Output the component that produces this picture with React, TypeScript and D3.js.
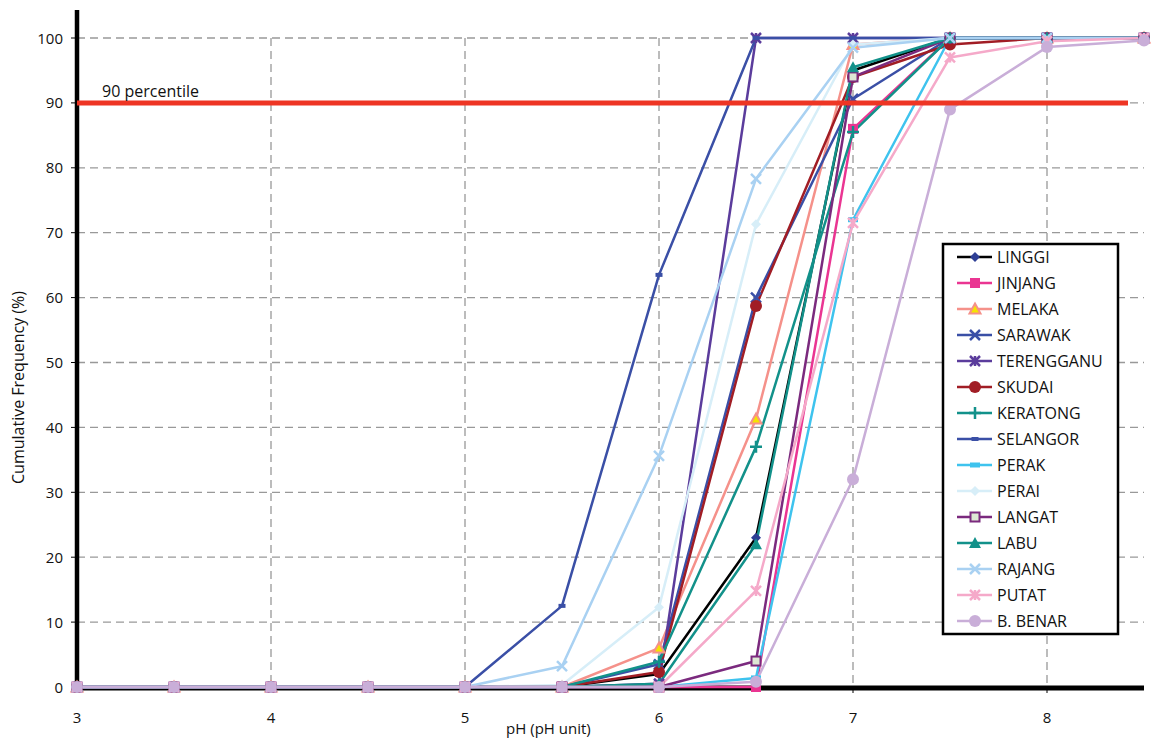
import React, { useEffect, useRef } from "react";
import * as d3 from "d3";

const phValues = [3, 3.5, 4, 4.5, 5, 5.5, 6, 6.5, 7, 7.5, 8, 8.5];
const xTicks = [3, 4, 5, 6, 7, 8];
const yTicks = [0, 10, 20, 30, 40, 50, 60, 70, 80, 90, 100];

const LINGGI = [0, 0, 0, 0, 0, 0, 2, 23, 95, 100, 100, 100];
const JINJANG = [0, 0, 0, 0, 0, 0, 0, 0, 86, 100, 100, 100];
const MELAKA = [0, 0, 0, 0, 0, 0, 6, 41.3, 99, 100, 100, 100];
const SARAWAK = [0, 0, 0, 0, 0, 0, 3.5, 60, 90.6, 100, 100, 100];
const TERENGGANU = [0, 0, 0, 0, 0, 0, 0.5, 100, 100, 100, 100, 100];
const SKUDAI = [0, 0, 0, 0, 0, 0, 2.3, 58.7, 94, 99, 100, 100];
const KERATONG = [0, 0, 0, 0, 0, 0, 3.9, 37, 85.5, 100, 100, 100];
const SELANGOR = [0, 0, 0, 0, 0, 12.5, 63.5, 100, 100, 100, 100, 100];
const PERAK = [0, 0, 0, 0, 0, 0, 0, 1.4, 72, 100, 100, 100];
const PERAI = [0, 0, 0, 0, 0, 0.3, 12.3, 71.3, 99, 100, 100, 100];
const LANGAT = [0, 0, 0, 0, 0, 0, 0, 4, 94, 100, 100, 100];
const LABU = [0, 0, 0, 0, 0, 0, 0.5, 22, 95.5, 100, 100, 100];
const RAJANG = [0, 0, 0, 0, 0, 3.2, 35.6, 78.3, 98.5, 100, 100, 100];
const PUTAT = [0, 0, 0, 0, 0, 0, 0, 14.8, 71.5, 97, 99.5, 100];
const BBENAR = [0, 0, 0, 0, 0, 0, 0, 0.8, 32, 89, 98.6, 99.6];

const seriesNames = ["LINGGI", "JINJANG", "MELAKA", "SARAWAK", "TERENGGANU", "SKUDAI", "KERATONG", "SELANGOR", "PERAK", "PERAI", "LANGAT", "LABU", "RAJANG", "PUTAT", "B. BENAR"];
const seriesValues = [LINGGI, JINJANG, MELAKA, SARAWAK, TERENGGANU, SKUDAI, KERATONG, SELANGOR, PERAK, PERAI, LANGAT, LABU, RAJANG, PUTAT, BBENAR];

type Style = { line: string; fill: string; stroke: string; marker: string };
const styles: Style[] = [
  { line: "#000000", fill: "#2e3f95", stroke: "#2e3f95", marker: "diamond" },
  { line: "#ea3592", fill: "#ea3592", stroke: "#ea3592", marker: "square" },
  { line: "#f5918a", fill: "#f5e400", stroke: "#f5918a", marker: "triangleOpen" },
  { line: "#3a4fa6", fill: "#3a4fa6", stroke: "#3a4fa6", marker: "x" },
  { line: "#5b3c9c", fill: "#5b3c9c", stroke: "#5b3c9c", marker: "star" },
  { line: "#a11d25", fill: "#a11d25", stroke: "#a11d25", marker: "circle" },
  { line: "#12918a", fill: "#12918a", stroke: "#12918a", marker: "plus" },
  { line: "#3a4fa6", fill: "#3a4fa6", stroke: "#3a4fa6", marker: "dash" },
  { line: "#3ec3ee", fill: "#3ec3ee", stroke: "#3ec3ee", marker: "dashLong" },
  { line: "#d7eef8", fill: "#d7eef8", stroke: "#d7eef8", marker: "diamond" },
  { line: "#7b2a7e", fill: "#dde8d4", stroke: "#7b2a7e", marker: "squareOpen" },
  { line: "#12918a", fill: "#12918a", stroke: "#12918a", marker: "triangle" },
  { line: "#a9d1f2", fill: "#a9d1f2", stroke: "#a9d1f2", marker: "x" },
  { line: "#f5a9c9", fill: "#f5a9c9", stroke: "#f5a9c9", marker: "star" },
  { line: "#c9aed8", fill: "#c9aed8", stroke: "#c9aed8", marker: "circle" },
];

const FONT = "'Open Sans', 'Noto Sans', sans-serif";

function drawMarker(g: d3.Selection<SVGGElement, unknown, null, undefined>, type: string, x: number, y: number, s: Style) {
  const m = g.append("g").attr("transform", `translate(${x},${y})`);
  switch (type) {
    case "diamond":
      m.append("path").attr("d", "M0,-5L5,0L0,5L-5,0Z").attr("fill", s.fill);
      break;
    case "square":
      m.append("rect").attr("x", -5).attr("y", -5).attr("width", 10).attr("height", 10).attr("fill", s.fill);
      break;
    case "squareOpen":
      m.append("rect").attr("x", -4.5).attr("y", -4.5).attr("width", 9).attr("height", 9).attr("fill", s.fill).attr("stroke", s.stroke).attr("stroke-width", 2);
      break;
    case "triangle":
      m.append("path").attr("d", "M0,-6L6,5L-6,5Z").attr("fill", s.fill);
      break;
    case "triangleOpen":
      m.append("path").attr("d", "M0,-5.5L5.5,4.5L-5.5,4.5Z").attr("fill", s.fill).attr("stroke", s.stroke).attr("stroke-width", 2);
      break;
    case "circle":
      m.append("circle").attr("r", 6).attr("fill", s.fill);
      break;
    case "x":
      m.append("path").attr("d", "M-5,-5L5,5M5,-5L-5,5").attr("stroke", s.stroke).attr("stroke-width", 2.5);
      break;
    case "star":
      m.append("path").attr("d", "M-5,-5L5,5M5,-5L-5,5M0,-5L0,5").attr("stroke", s.stroke).attr("stroke-width", 2.5);
      break;
    case "plus":
      m.append("path").attr("d", "M0,-6L0,6M-6,0L6,0").attr("stroke", s.stroke).attr("stroke-width", 2.5);
      break;
    case "dash":
      m.append("rect").attr("x", -3.5).attr("y", -2).attr("width", 7).attr("height", 4).attr("fill", s.fill);
      break;
    case "dashLong":
      m.append("rect").attr("x", -5).attr("y", -2.5).attr("width", 10).attr("height", 5).attr("fill", s.fill);
      break;
  }
}

export default function App() {
  const ref = useRef<SVGSVGElement>(null);
  useEffect(() => {
    const svg = d3.select(ref.current);
    svg.selectAll("*").remove();
    const x = d3.scaleLinear().domain([3, 8.5]).range([77, 1144]);
    const y = d3.scaleLinear().domain([0, 100]).range([687, 38]);
    const root = svg.append("g");

    // horizontal grid
    root.append("g").selectAll("line").data(yTicks.filter(t => t > 0)).join("line")
      .attr("x1", x(3)).attr("x2", 1144).attr("y1", d => y(d)).attr("y2", d => y(d))
      .attr("stroke", "#999").attr("stroke-width", 1.3).attr("stroke-dasharray", "8,5");
    // vertical grid
    root.append("g").selectAll("line").data(xTicks.filter(t => t > 3)).join("line")
      .attr("x1", d => x(d)).attr("x2", d => x(d)).attr("y1", y(100)).attr("y2", y(0))
      .attr("stroke", "#999").attr("stroke-width", 1.3).attr("stroke-dasharray", "8,5");

    // y tick marks and labels
    const yt = root.append("g");
    yt.selectAll("line").data(yTicks).join("line")
      .attr("x1", 71).attr("x2", 77).attr("y1", d => y(d)).attr("y2", d => y(d))
      .attr("stroke", "#000").attr("stroke-width", 1);
    yt.selectAll("text").data(yTicks).join("text")
      .attr("x", 63).attr("y", d => y(d) + 5.5).attr("text-anchor", "end")
      .attr("font-family", FONT).attr("font-size", 15).attr("fill", "#111").text(d => String(d));

    // x tick labels
    const xt = root.append("g");
    xt.selectAll("line").data(xTicks).join("line")
      .attr("x1", d => x(d)).attr("x2", d => x(d)).attr("y1", y(0)).attr("y2", y(0) + 6)
      .attr("stroke", "#000").attr("stroke-width", 1);
    xt.selectAll("text").data(xTicks).join("text")
      .attr("x", d => x(d)).attr("y", 723).attr("text-anchor", "middle")
      .attr("font-family", FONT).attr("font-size", 15).attr("fill", "#111").text(d => String(d));

    // axes
    root.append("line").attr("x1", x(3)).attr("x2", x(8.5)).attr("y1", y(0) + 1).attr("y2", y(0) + 1)
      .attr("stroke", "#000").attr("stroke-width", 5);
    root.append("line").attr("x1", x(3)).attr("x2", x(3)).attr("y1", 10).attr("y2", y(0) + 3)
      .attr("stroke", "#000").attr("stroke-width", 4.5);

    // axis titles
    root.append("text").attr("x", x(5.43)).attr("y", 734).attr("text-anchor", "middle")
      .attr("font-family", FONT).attr("font-size", 15).attr("fill", "#111").text("pH (pH unit)");
    root.append("text").attr("transform", `translate(24,${y(50) + 25}) rotate(-90)`).attr("text-anchor", "middle")
      .attr("font-family", FONT).attr("font-size", 16).attr("fill", "#111").text("Cumulative Frequency (%)");

    // series
    const line = d3.line<number>().x((_, i) => x(phValues[i])).y(d => y(d));
    const sg = root.append("g");
    seriesValues.forEach((vals, si) => {
      const s = styles[si];
      sg.append("path").attr("d", line(vals)).attr("fill", "none").attr("stroke", s.line)
        .attr("stroke-width", 2.5).attr("stroke-linejoin", "round");
    });
    seriesValues.forEach((vals, si) => {
      const s = styles[si];
      const mg = sg.append("g");
      vals.forEach((v, i) => drawMarker(mg, s.marker, x(phValues[i]), y(v), s));
    });

    // 90 percentile line
    root.append("line").attr("x1", x(3)).attr("x2", 1128).attr("y1", y(90)).attr("y2", y(90))
      .attr("stroke", "#ee3524").attr("stroke-width", 5);
    root.append("text").attr("x", 102).attr("y", y(90) - 6)
      .attr("font-family", FONT).attr("font-size", 16).attr("fill", "#111").text("90 percentile");

    // legend
    const lg = root.append("g");
    lg.append("rect").attr("x", 943).attr("y", 244).attr("width", 175).attr("height", 390)
      .attr("fill", "#fff").attr("stroke", "#000").attr("stroke-width", 2.5);
    seriesNames.forEach((name, i) => {
      const ly = 257 + i * 26;
      const s = styles[i];
      lg.append("line").attr("x1", 957).attr("x2", 992).attr("y1", ly).attr("y2", ly)
        .attr("stroke", s.line).attr("stroke-width", 2.5);
      const mg = lg.append("g");
      drawMarker(mg, s.marker, 975, ly, s);
      lg.append("text").attr("x", 997).attr("y", ly + 6).attr("font-family", FONT)
        .attr("font-size", 16).attr("fill", "#111").text(name);
    });
  }, []);
  return (
    <svg ref={ref} width={1153} height={738} style={{ position: "absolute", left: 0, top: 0, background: "#fff" }} />
  );
}
